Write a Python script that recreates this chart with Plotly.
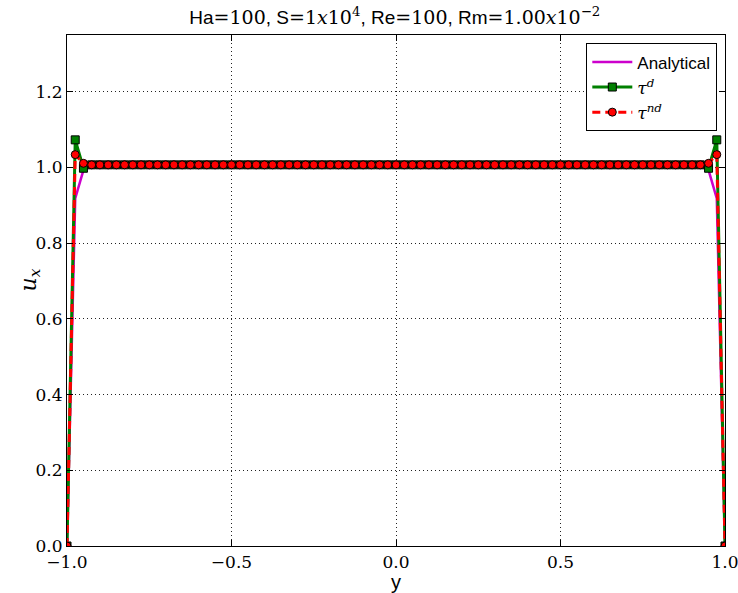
import numpy as np
import plotly.graph_objects as go

# Wall-normal coordinate: 81 uniformly spaced nodes across the channel
y_nodes = np.linspace(-1.0, 1.0, 81)

# Streamwise velocity profiles (Hartmann flow)
u_analytical = [
    0.000, 0.918, 0.993,
    1.007, 1.007, 1.007, 1.007, 1.007, 1.007, 1.007, 1.007, 1.007, 1.007, 1.007, 1.007, 1.007, 1.007, 1.007,
    1.007, 1.007, 1.007, 1.007, 1.007, 1.007, 1.007, 1.007, 1.007, 1.007, 1.007, 1.007, 1.007, 1.007, 1.007,
    1.007, 1.007, 1.007, 1.007, 1.007, 1.007, 1.007, 1.007, 1.007, 1.007, 1.007, 1.007, 1.007, 1.007, 1.007,
    1.007, 1.007, 1.007, 1.007, 1.007, 1.007, 1.007, 1.007, 1.007, 1.007, 1.007, 1.007, 1.007, 1.007, 1.007,
    1.007, 1.007, 1.007, 1.007, 1.007, 1.007, 1.007, 1.007, 1.007, 1.007, 1.007, 1.007, 1.007, 1.007, 1.007,
    0.993, 0.918, 0.000,
]
u_tau_d = [
    0.000, 1.073, 0.998,
    1.007, 1.007, 1.007, 1.007, 1.007, 1.007, 1.007, 1.007, 1.007, 1.007, 1.007, 1.007, 1.007, 1.007, 1.007,
    1.007, 1.007, 1.007, 1.007, 1.007, 1.007, 1.007, 1.007, 1.007, 1.007, 1.007, 1.007, 1.007, 1.007, 1.007,
    1.007, 1.007, 1.007, 1.007, 1.007, 1.007, 1.007, 1.007, 1.007, 1.007, 1.007, 1.007, 1.007, 1.007, 1.007,
    1.007, 1.007, 1.007, 1.007, 1.007, 1.007, 1.007, 1.007, 1.007, 1.007, 1.007, 1.007, 1.007, 1.007, 1.007,
    1.007, 1.007, 1.007, 1.007, 1.007, 1.007, 1.007, 1.007, 1.007, 1.007, 1.007, 1.007, 1.007, 1.007, 1.007,
    0.998, 1.073, 0.000,
]
u_tau_nd = [
    0.000, 1.034, 1.011,
    1.007, 1.007, 1.007, 1.007, 1.007, 1.007, 1.007, 1.007, 1.007, 1.007, 1.007, 1.007, 1.007, 1.007, 1.007,
    1.007, 1.007, 1.007, 1.007, 1.007, 1.007, 1.007, 1.007, 1.007, 1.007, 1.007, 1.007, 1.007, 1.007, 1.007,
    1.007, 1.007, 1.007, 1.007, 1.007, 1.007, 1.007, 1.007, 1.007, 1.007, 1.007, 1.007, 1.007, 1.007, 1.007,
    1.007, 1.007, 1.007, 1.007, 1.007, 1.007, 1.007, 1.007, 1.007, 1.007, 1.007, 1.007, 1.007, 1.007, 1.007,
    1.007, 1.007, 1.007, 1.007, 1.007, 1.007, 1.007, 1.007, 1.007, 1.007, 1.007, 1.007, 1.007, 1.007, 1.007,
    1.011, 1.034, 0.000,
]

x_ticks = [-1.0, -0.5, 0.0, 0.5, 1.0]
y_ticks = [0.0, 0.2, 0.4, 0.6, 0.8, 1.0, 1.2]

SANS = "Liberation Sans, Arial, sans-serif"
SERIF = "DejaVu Serif"


def serif(s):
    return f"<span style=\"font-family:{SERIF}\">{s}</span>"


fig = go.Figure()

fig.add_trace(go.Scatter(
    x=y_nodes, y=u_analytical, mode="lines", name="Analytical",
    line=dict(color="#cc00cc", width=2.5),
))
fig.add_trace(go.Scatter(
    x=y_nodes, y=u_tau_d, mode="lines+markers",
    name=serif("<i>τ</i><sup><i>d</i></sup>"),
    line=dict(color="#008000", width=3),
    marker=dict(symbol="square", size=8, color="#008000",
                line=dict(color="black", width=1)),
))
fig.add_trace(go.Scatter(
    x=y_nodes, y=u_tau_nd, mode="lines+markers",
    name=serif("<i>τ</i><sup><i>nd</i></sup>"),
    line=dict(color="#ff0000", width=3, dash="8px,5px"),
    marker=dict(symbol="circle", size=8, color="#ff0000",
                line=dict(color="black", width=1)),
))

title = ("Ha" + serif("=100") + ", S" + serif("=1<i>x</i>10<sup>4</sup>")
         + ", Re" + serif("=100") + ", Rm"
         + serif("=1.00<i>x</i>10<sup>−2</sup>"))

axis_common = dict(
    showline=True, linecolor="black", linewidth=1.2, mirror="ticks",
    ticks="inside", ticklen=6, tickcolor="black", tickwidth=1,
    showgrid=True, gridcolor="#222222", griddash="1px,3px", gridwidth=1,
    zeroline=False, tickfont=dict(family=SERIF, size=17, color="black"),
    tickformat=".1f", automargin=False, ticklabeloverflow="allow",
)

fig.update_layout(
    width=738, height=593,
    margin=dict(l=67, r=13, t=35, b=47),
    paper_bgcolor="white", plot_bgcolor="white",
    title=dict(text=title, x=0.535, xanchor="center", y=0.97, yanchor="middle",
               font=dict(family=SANS, size=19, color="black"), automargin=False),
    xaxis=dict(axis_common, range=[-1.0, 1.0], tickvals=x_ticks,
               title=dict(text="y", font=dict(family=SANS, size=20, color="black"),
                          standoff=0)),
    yaxis=dict(axis_common, range=[0.0, 1.35], tickvals=y_ticks),
    legend=dict(x=0.988, y=0.984, xanchor="right", yanchor="top",
                bgcolor="white", bordercolor="black", borderwidth=1.2,
                font=dict(family=SANS, size=17, color="black"),
                tracegroupgap=6, itemwidth=40),
    showlegend=True,
)

# Vertical axis label
fig.add_annotation(
    text="<i>u</i><sub><i>x</i></sub>", xref="paper", yref="paper",
    x=-0.056, y=0.52, xanchor="center", yanchor="middle", showarrow=False,
    textangle=-90, font=dict(family=SERIF, size=22, color="black"),
)

fig.write_html("out.html")
